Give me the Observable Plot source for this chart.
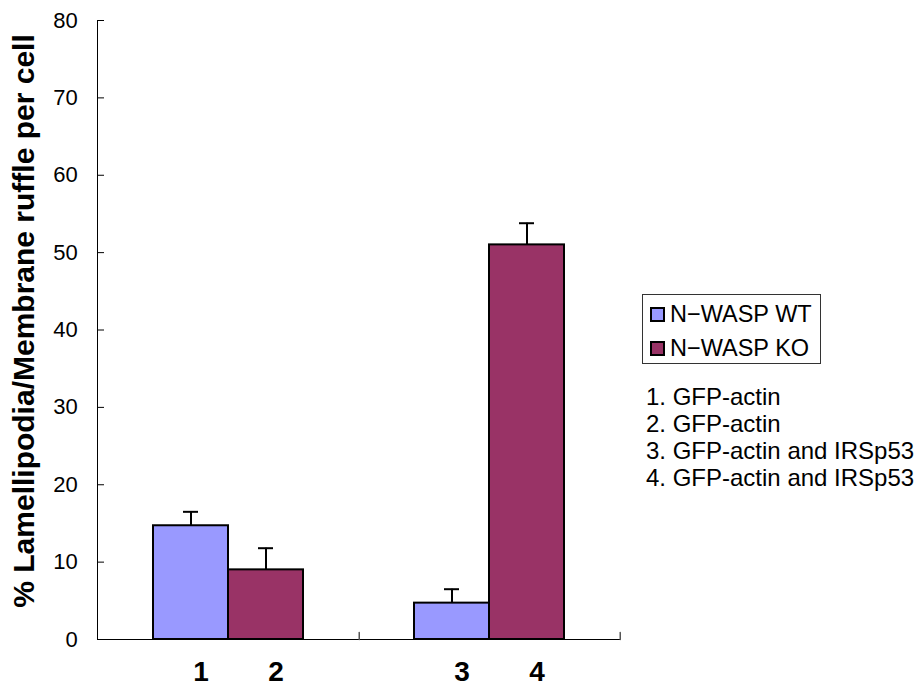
<!DOCTYPE html>
<html><head><meta charset="utf-8">
<script src="https://cdn.jsdelivr.net/npm/d3@7"></script>
<script src="https://cdn.jsdelivr.net/npm/@observablehq/plot@0.6"></script>
<style>
body{margin:0;background:#fff;font-family:"Liberation Sans",Arial,sans-serif;color:#000;}
#wrap{position:relative;width:922px;height:689px;}
#legend{position:absolute;left:642px;top:294px;width:179px;height:70px;box-sizing:border-box;border:1px solid #333;padding:2px 0 0 7px;background:#fff;}
.row{display:flex;align-items:center;height:34px;font-size:23.5px;white-space:nowrap;}
.sw{width:15px;height:15px;box-sizing:border-box;border:2px solid #000;margin-right:5px;flex:none;}
#notes{position:absolute;left:646px;top:383px;font-size:24px;line-height:27px;white-space:nowrap;}
</style></head><body><div id="wrap"></div>
<script>
const groups = ["A", "B"];
const series = ["N\u2212WASP WT", "N\u2212WASP KO"];
const colors = ["#9999FF", "#993366"];
const wtValues = [14.7, 4.7];
const koValues = [9.0, 51.0];
const wtErrors = [1.8, 1.8];
const koErrors = [2.8, 2.8];
const wtLabels = ["1", "3"];
const koLabels = ["2", "4"];
const yTicks = [0, 10, 20, 30, 40, 50, 60, 70, 80];
const yTitle = "% Lamellipodia/Membrane ruffle per cell";
const notes = ["1. GFP-actin", "2. GFP-actin", "3. GFP-actin and IRSp53", "4. GFP-actin and IRSp53"];

const wtRows = groups.map((g, i) => ({group: g, series: series[0], value: wtValues[i], err: wtErrors[i], label: wtLabels[i]}));
const koRows = groups.map((g, i) => ({group: g, series: series[1], value: koValues[i], err: koErrors[i], label: koLabels[i]}));

const half = 75;       // half of the group band (px)
const stepHalf = 130.75; // half a category step (px)
const tickShape = {draw(ctx, l) { ctx.moveTo(0, 0); ctx.lineTo(0, -l); }};

const chart = Plot.plot({
  width: 922, height: 689,
  marginLeft: 97, marginRight: 302, marginTop: 20, marginBottom: 50,
  style: {fontFamily: "Liberation Sans, Arial, sans-serif", background: "#fff", color: "#000"},
  x: {domain: groups, paddingInner: 0.4264, paddingOuter: 0.2132, axis: null},
  y: {domain: [0, 80], label: null, axis: null},
  color: {domain: series, range: colors},
  marks: [
    Plot.barY(wtRows, {x: "group", y1: 0, y2: "value", fill: "series", stroke: "#000", strokeWidth: 2, insetRight: half}),
    Plot.barY(koRows, {x: "group", y1: 0, y2: "value", fill: "series", stroke: "#000", strokeWidth: 2, insetLeft: half}),
    Plot.ruleX(wtRows, {x: "group", y1: "value", y2: d => d.value + d.err, dx: -half / 2, strokeWidth: 2}),
    Plot.ruleX(koRows, {x: "group", y1: "value", y2: d => d.value + d.err, dx: half / 2, strokeWidth: 2}),
    Plot.tickY(wtRows, {x: "group", y: d => d.value + d.err, insetLeft: 30, insetRight: 105, strokeWidth: 2}),
    Plot.tickY(koRows, {x: "group", y: d => d.value + d.err, insetLeft: 105, insetRight: 30, strokeWidth: 2}),
    Plot.ruleY([0], {stroke: "#000"}),
    Plot.frame({anchor: "left", stroke: "#000"}),
    Plot.axisY(yTicks, {tickSize: -7, tickPadding: 26.7, fontSize: 22, stroke: "#000"}),
    Plot.vector(groups, {x: d => d, y: 0, dx: stepHalf, length: 7, rotate: 0, anchor: "start", shape: tickShape, stroke: "#555", strokeWidth: 1.5}),
    Plot.text(wtRows, {x: "group", y: 0, text: "label", dx: -half / 2 + 10, dy: 33, fontSize: 28, fontWeight: "bold"}),
    Plot.text(koRows, {x: "group", y: 0, text: "label", dx: half / 2 + 10, dy: 33, fontSize: 28, fontWeight: "bold"}),
    Plot.text([yTitle], {text: d => d, frameAnchor: "left", textAnchor: "middle", rotate: -90, dx: -73.6, dy: -9, fontSize: 30, fontWeight: "bold"})
  ]
});

const wrap = document.getElementById("wrap");
wrap.appendChild(chart);

const legend = document.createElement("div");
legend.id = "legend";
series.forEach((s, i) => {
  const row = document.createElement("div");
  row.className = "row";
  const sw = document.createElement("div");
  sw.className = "sw";
  sw.style.background = colors[i];
  const t = document.createElement("span");
  t.textContent = s;
  row.appendChild(sw); row.appendChild(t);
  legend.appendChild(row);
});
wrap.appendChild(legend);

const notesDiv = document.createElement("div");
notesDiv.id = "notes";
notes.forEach(n => { const d = document.createElement("div"); d.textContent = n; notesDiv.appendChild(d); });
wrap.appendChild(notesDiv);
</script>
</body></html>
